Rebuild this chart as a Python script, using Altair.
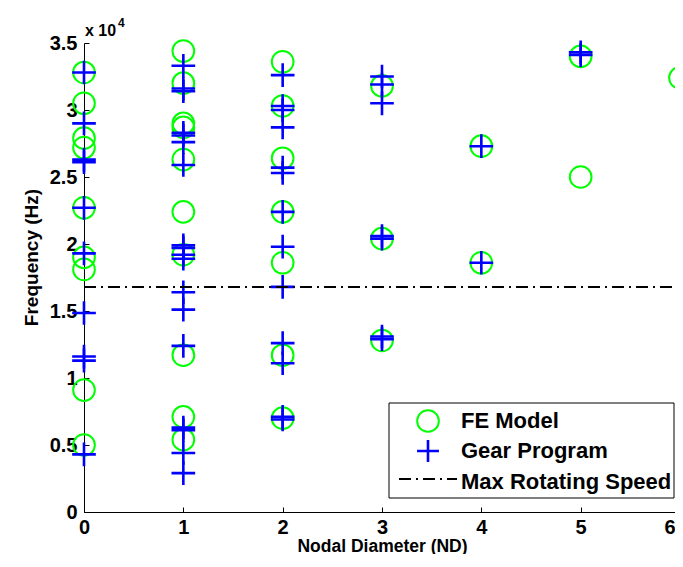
import altair as alt
import pandas as pd

# ---- data (Hz) ----
fe_by_nd = {
    0: [32800, 30500, 27900, 27200, 22700, 19000, 18100, 9100, 5000],
    1: [34400, 32000, 29000, 28700, 26300, 22400, 19200, 11700, 7100, 5400],
    2: [33600, 30300, 26400, 22400, 18600, 11700, 7000],
    3: [31800, 20400, 12800],
    4: [27300, 18600],
    5: [34000, 25000],
    6: [32400],
}
gear_by_nd = {
    0: [32800, 29000, 26300, 26100, 22700, 19300, 14850, 11600, 11300, 4300],
    1: [33300, 31600, 31400, 28300, 28100, 27600, 25900, 19900, 19700, 19200,
        18900, 16400, 15100, 12400, 6300, 6100, 4400, 2900],
    2: [32600, 30300, 30000, 28700, 25700, 25300, 22400, 19800, 16800, 12600,
        11100, 7100, 6900],
    3: [32500, 31900, 30500, 20600, 20400, 13100, 12900],
    4: [27300, 18600],
    5: [34300, 34100],
}
max_speed_hz = 16800
line_nd = [0, 6]
x_ticks = [0, 1, 2, 3, 4, 5, 6]
y_ticks = [0, 5000, 10000, 15000, 20000, 25000, 30000, 35000]
legend_labels = ["FE Model", "Gear Program", "Max Rotating Speed"]

fe = pd.DataFrame([(nd, f) for nd, fs in fe_by_nd.items() for f in fs], columns=["nd", "hz"])
gear = pd.DataFrame([(nd, f) for nd, fs in gear_by_nd.items() for f in fs], columns=["nd", "hz"])
line = pd.DataFrame({"nd": line_nd, "hz": [max_speed_hz] * len(line_nd)})
one = pd.DataFrame({"a": [0]})

W, H = 596, 469
FONT = "Liberation Sans"

xs = alt.Scale(domain=[0, 6], nice=False, zero=False)
ys = alt.Scale(domain=[0, 35000], nice=False, zero=True)

green = "#00FF00"
blue = "#0000FF"
plus_path = "M-1,0L1,0M0,-1L0,1"

circle_style = dict(shape="circle", filled=False, color=green, size=470, strokeWidth=2, opacity=1)
circles = alt.Chart(fe).mark_point(**circle_style).encode(
    x=alt.X("nd:Q", scale=xs, axis=alt.Axis(
        orient="bottom", values=x_ticks, grid=False, ticks=False, domain=True,
        domainColor="black", domainWidth=1, labelFont=FONT, labelFontSize=20,
        labelFontWeight="bold", labelColor="black", labelPadding=5,
        labelFlush=False, labelOverlap=False,
        labelAlign={"condition": {"test": "datum.value == 6", "value": "right"}, "value": "center"},
        labelOffset={"condition": {"test": "datum.value == 6", "value": -5}, "value": 0},
        title="Nodal Diameter (ND)", titleFont=FONT, titleFontSize=17.5,
        titleFontWeight="bold", titleColor="black", titleY=39,
        titleBaseline="alphabetic")),
    y=alt.Y("hz:Q", scale=ys, axis=alt.Axis(
        orient="left", values=y_ticks, grid=False, ticks=False, domain=True,
        domainColor="black", domainWidth=1, labelFont=FONT, labelFontSize=20,
        labelFontWeight="bold", labelColor="black", labelPadding=7,
        labelExpr="datum.value / 10000 + ''", labelOverlap=False, labelFlush=False,
        title="Frequency (Hz)", titleFont=FONT, titleFontSize=19,
        titleFontWeight="bold", titleColor="black", titleAngle=270,
        titleX=-47, titleY=214, titleAlign="center", titleBaseline="alphabetic")),
)

# pluses, carrying inward tick marks
pluses = alt.Chart(gear).mark_point(
    shape=plus_path, filled=False, color=blue, size=560, strokeWidth=2.6, opacity=1
).encode(
    x=alt.X("nd:Q", scale=xs, axis=alt.Axis(
        orient="top", offset=-H, values=x_ticks, grid=False, ticks=True,
        tickSize=5, tickColor="black", tickWidth=1, labels=False, domain=False,
        title=None)),
    y=alt.Y("hz:Q", scale=ys, axis=alt.Axis(
        orient="right", offset=-W, values=y_ticks, grid=False, ticks=True,
        tickSize=5, tickColor="black", tickWidth=1, labels=False, domain=False,
        title=None)),
)

dash = [12, 5, 2, 5]
maxline = alt.Chart(line).mark_line(color="black", strokeWidth=2, strokeDash=dash).encode(
    x=alt.X("nd:Q", scale=xs, axis=None),
    y=alt.Y("hz:Q", scale=ys, axis=None),
)

# exponent label
exp_base = alt.Chart(one).mark_text(
    align="left", baseline="alphabetic", font=FONT, fontSize=16, fontWeight="bold", color="black"
).encode(x=alt.value(1), y=alt.value(-7), text=alt.value("x 10"))
exp_pow = alt.Chart(one).mark_text(
    align="left", baseline="alphabetic", font=FONT, fontSize=12, fontWeight="bold", color="black"
).encode(x=alt.value(34), y=alt.value(-16), text=alt.value("4"))

# legend
lx0, lx1, ly0, ly1 = 305, 590, 360, 455
leg_box = alt.Chart(one).mark_rect(fill="white", stroke="black", strokeWidth=1).encode(
    x=alt.value(lx0), x2=alt.value(lx1), y=alt.value(ly0), y2=alt.value(ly1))
leg_c = alt.Chart(one).mark_point(shape="circle", filled=False, color=green, size=470,
                                  strokeWidth=2, opacity=1).encode(
    x=alt.value(344), y=alt.value(378))
leg_p = alt.Chart(one).mark_point(shape=plus_path, filled=False, color=blue, size=480,
                                  strokeWidth=2.6, opacity=1).encode(
    x=alt.value(344), y=alt.value(408))
leg_l = alt.Chart(one).mark_rule(color="black", strokeWidth=2, strokeDash=dash).encode(
    x=alt.value(315), x2=alt.value(373), y=alt.value(436))
leg_texts = []
for lab, yb in zip(legend_labels, [385, 415, 446]):
    leg_texts.append(alt.Chart(one).mark_text(
        align="left", baseline="alphabetic", font=FONT, fontSize=22, fontWeight="bold",
        color="black").encode(x=alt.value(377), y=alt.value(yb), text=alt.value(lab)))

chart = alt.layer(
    circles, pluses, maxline, exp_base, exp_pow,
    leg_box, leg_c, leg_p, leg_l, *leg_texts
).resolve_axis(x="independent", y="independent").properties(
    width=W, height=H,
    autosize=alt.AutoSizeParams(type="none"),
    padding={"left": 76, "top": 35, "right": -5, "bottom": 42},
).configure_view(stroke=None)

chart.save("out.html", embed_options={"renderer": "svg", "actions": False})
